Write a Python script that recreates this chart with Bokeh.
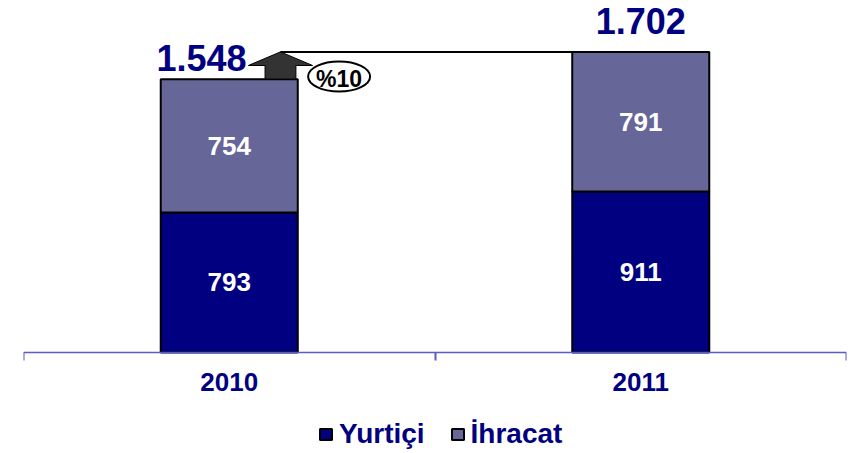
from bokeh.plotting import figure
from bokeh.models import (ColumnDataSource, Range1d, FixedTicker, Legend, LegendItem)
from bokeh.core.properties import value
from bokeh.embed import file_html
from bokeh.resources import INLINE

# ---- data ----
years = ["2010", "2011"]
yurtici = [793, 911]
ihracat = [754, 791]
totals = [1548, 1702]
series_names = ["Yurtiçi", "İhracat"]

growth = round((totals[1] / totals[0] - 1) * 100)

def fmt_tr(v):
    return f"{v:,}".replace(",", ".")

FONT = "Liberation Sans"
NAVY = "#000080"
GREY_BLUE = "#666699"
AXIS_C = "#5a5ac8"

xs = [i + 0.5 for i in range(len(years))]
bar_w = 0.333

src = ColumnDataSource(dict(
    x=xs,
    y1=yurtici,
    bottom2=yurtici,
    top2=[a + b for a, b in zip(yurtici, ihracat)],
    lbl1=[str(v) for v in yurtici],
    lbl2=[str(v) for v in ihracat],
    mid1=[v / 2 for v in yurtici],
    mid2=[a + b / 2 for a, b in zip(yurtici, ihracat)],
))

p = figure(frame_width=823, frame_height=453, output_backend="svg",
           toolbar_location=None, x_range=Range1d(0, 2), y_range=Range1d(-572, 1993),
           min_border_left=23, min_border_right=14, min_border_top=0, min_border_bottom=0)
p.outline_line_color = None
p.xgrid.visible = False
p.ygrid.visible = False
p.yaxis.visible = False
p.background_fill_color = "white"

r1 = p.vbar(x="x", width=bar_w, bottom=0, top="y1", source=src,
            fill_color=NAVY, line_color="black", line_width=2)
r2 = p.vbar(x="x", width=bar_w, bottom="bottom2", top="top2", source=src,
            fill_color=GREY_BLUE, line_color="black", line_width=2)

# segment labels
for ycol, lcol in (("mid1", "lbl1"), ("mid2", "lbl2")):
    p.text(x="x", y=ycol, text=lcol, source=src, text_color="white",
           text_font=value(FONT), text_font_style="bold", text_font_size="26px",
           text_align="center", text_baseline="middle")

# totals
p.text(x=[xs[0] + 0.042], y=[totals[0]], text=[fmt_tr(totals[0])], y_offset=-21,
       text_color=NAVY, text_font=value(FONT), text_font_style="bold",
       text_font_size="36px", text_align="right", text_baseline="middle")
p.text(x=[xs[1]], y=[totals[1]], text=[fmt_tr(totals[1])], y_offset=-31,
       text_color=NAVY, text_font=value(FONT), text_font_style="bold",
       text_font_size="36px", text_align="center", text_baseline="middle")

# growth arrow
cx = xs[0] + bar_w / 2 - 0.042
sw = 0.0375
hw = 0.078
t0, t1 = totals[0], totals[1]
mid = (t0 + t1) / 2
p.patch(x=[cx - sw, cx + sw, cx + sw, cx + hw, cx, cx - hw, cx - sw],
        y=[t0, t0, mid, mid, t1, mid, mid],
        fill_color="#333333", line_color="black", line_width=1)
p.line(x=[cx, xs[1] - bar_w / 2], y=[t1, t1], line_color="black", line_width=2)

ex = xs[0] + 0.267
p.ellipse(x=[ex], y=[t0 + 15], width=62, height=30, width_units="screen",
          height_units="screen", fill_color="white", line_color="black", line_width=2)
p.text(x=[ex], y=[t0 + 15], text=[f"%{growth}"], y_offset=3,
       text_color="black", text_font=value(FONT), text_font_style="bold",
       text_font_size="23px", text_align="center", text_baseline="middle")

# x axis at value 0 inside the frame
ax = p.xaxis[0]
ax.fixed_location = 0
ax.ticker = FixedTicker(ticks=xs, minor_ticks=[0, 1, 2])
ax.major_label_overrides = {x: y for x, y in zip(xs, years)}
ax.major_tick_line_color = None
ax.major_tick_out = 0
ax.major_tick_in = 0
ax.minor_tick_out = 8
ax.minor_tick_in = 0
ax.minor_tick_line_color = AXIS_C
ax.minor_tick_line_width = 2
ax.axis_line_color = AXIS_C
ax.axis_line_width = 1.5
ax.major_label_standoff = 13
ax.major_label_text_font = FONT
ax.major_label_text_font_style = "bold"
ax.major_label_text_font_size = "26px"
ax.major_label_text_color = NAVY

legend = Legend(items=[LegendItem(label=series_names[0], renderers=[r1]),
                       LegendItem(label=series_names[1], renderers=[r2])],
                orientation="horizontal", location=(295, 3),
                glyph_width=15, glyph_height=14, label_standoff=6, spacing=25,
                label_text_font=FONT, label_text_font_style="bold",
                label_text_font_size="28px", label_text_color=NAVY,
                border_line_color=None, background_fill_alpha=0,
                padding=2, margin=0)
p.add_layout(legend, "center")

open("out.html", "w").write(file_html(p, INLINE))
